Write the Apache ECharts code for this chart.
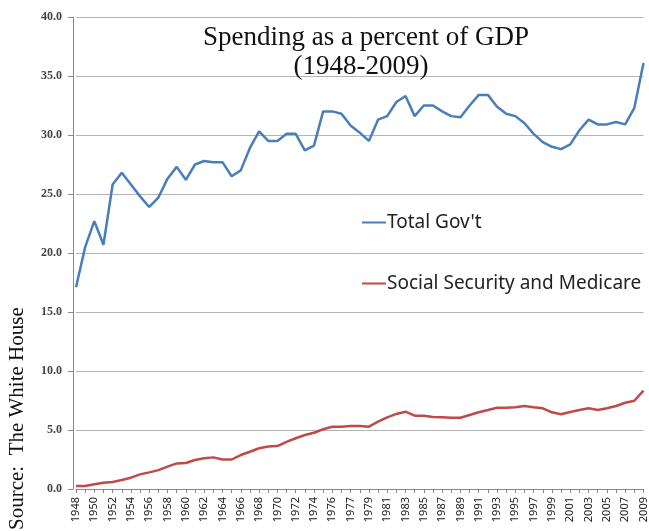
<!DOCTYPE html>
<html>
<head>
<meta charset="utf-8">
<script src="https://cdn.jsdelivr.net/npm/echarts@6/dist/echarts.min.js"></script>
<style>
  html, body { margin: 0; padding: 0; background: #fff; }
  #chart { width: 649px; height: 531px; }
</style>
</head>
<body>
<div id="chart"></div>
<script>
// fiscal years, with the 1976 transition quarter between 1976 and 1977
const years = [
  '1948', '1949', '1950', '1951', '1952', '1953', '1954', '1955', '1956', '1957',
  '1958', '1959', '1960', '1961', '1962', '1963', '1964', '1965', '1966', '1967',
  '1968', '1969', '1970', '1971', '1972', '1973', '1974', '1975', '1976', 'TQ',
  '1977', '1978', '1979', '1980', '1981', '1982', '1983', '1984', '1985', '1986',
  '1987', '1988', '1989', '1990', '1991', '1992', '1993', '1994', '1995', '1996',
  '1997', '1998', '1999', '2000', '2001', '2002', '2003', '2004', '2005', '2006',
  '2007', '2008', '2009'
]

const totalGov = [
  17.1, 20.5, 22.7, 20.7, 25.8, 26.8, 25.8, 24.8, 23.9, 24.7,
  26.3, 27.3, 26.2, 27.5, 27.8, 27.7, 27.7, 26.5, 27.0, 28.9,
  30.3, 29.5, 29.5, 30.1, 30.1, 28.7, 29.1, 32.0, 32.0, 31.8,
  30.8, 30.2, 29.5, 31.3, 31.6, 32.8, 33.3, 31.6, 32.5, 32.5,
  32.0, 31.6, 31.5, 32.5, 33.4, 33.4, 32.4, 31.8, 31.6, 31.0,
  30.1, 29.4, 29.0, 28.8, 29.2, 30.4, 31.3, 30.9, 30.9, 31.1,
  30.9, 32.3, 36.1
]

const ssMedicare = [
  0.25, 0.25, 0.4, 0.53, 0.6, 0.76, 0.96, 1.24, 1.41, 1.6,
  1.9, 2.17, 2.2, 2.46, 2.6, 2.68, 2.5, 2.5, 2.88, 3.16,
  3.45, 3.6, 3.64, 4.0, 4.3, 4.58, 4.77, 5.06, 5.28, 5.28,
  5.34, 5.34, 5.28, 5.71, 6.07, 6.36, 6.55, 6.21, 6.21, 6.1,
  6.07, 6.04, 6.04, 6.27, 6.5, 6.69, 6.89, 6.89, 6.92, 7.03,
  6.92, 6.84, 6.5, 6.33, 6.53, 6.69, 6.84, 6.69, 6.84, 7.03,
  7.31, 7.48, 8.33
]

const titleText = {
  fontFamily: 'Liberation Serif',
  fontWeight: 'normal',
  fontSize: 27,
  color: '#111'
}
const legendText = { fontFamily: 'Noto Sans', fontSize: 19, color: '#222', padding: [0, 0, 0, -4] }

const chart = echarts.init(document.getElementById('chart'))

chart.setOption({
  animation: false,
  backgroundColor: '#fff',
  title: [
    {
      text: 'Spending as a percent of GDP',
      left: 361,
      top: 19,
      textAlign: 'center',
      textStyle: titleText
    },
    {
      text: '(1948-2009)',
      left: 356,
      top: 48,
      textAlign: 'center',
      textStyle: titleText
    }
  ],
  legend: [
    {
      data: ['Total Gov\'t'],
      left: 357,
      top: 208,
      icon: 'rect',
      itemWidth: 24,
      itemHeight: 2,
      textStyle: legendText
    },
    {
      data: ['Social Security and Medicare'],
      left: 357,
      top: 269,
      icon: 'rect',
      itemWidth: 24,
      itemHeight: 2,
      textStyle: legendText
    }
  ],
  graphic: [
    {
      type: 'text',
      x: 7,
      y: 530,
      rotation: Math.PI / 2,
      style: {
        text: 'Source:  The White House',
        fontFamily: 'Liberation Serif',
        fontSize: 21,
        fill: '#111',
        textVerticalAlign: 'top'
      }
    }
  ],
  grid: {
    left: 76,
    right: 3,
    top: 17,
    bottom: 42
  },
  xAxis: {
    type: 'category',
    data: years,
    boundaryGap: false,
    axisLine: { lineStyle: { color: '#888' } },
    axisTick: { interval: 0, length: 4, lineStyle: { color: '#888' } },
    axisLabel: {
      interval: 1,
      rotate: 90,
      margin: 8,
      fontFamily: 'Noto Sans',
      fontSize: 11,
      color: '#222'
    }
  },
  yAxis: {
    type: 'value',
    min: 0,
    max: 40,
    interval: 5,
    offset: 3,
    axisLine: { show: true, lineStyle: { color: '#888' } },
    axisTick: { show: true, length: 5, lineStyle: { color: '#888' } },
    axisLabel: {
      formatter: v => v.toFixed(1),
      margin: 11,
      fontFamily: 'Liberation Serif',
      fontWeight: 'bold',
      fontSize: 12,
      color: '#444'
    },
    splitLine: { lineStyle: { color: '#b4b4b4', width: 1 } }
  },
  series: [
    {
      name: 'Total Gov\'t',
      type: 'line',
      data: totalGov,
      showSymbol: false,
      symbol: 'none',
      color: '#4a7ebb',
      lineStyle: { width: 2.5, color: '#4a7ebb' }
    },
    {
      name: 'Social Security and Medicare',
      type: 'line',
      data: ssMedicare,
      showSymbol: false,
      symbol: 'none',
      color: '#be4b48',
      lineStyle: { width: 2.5, color: '#be4b48' }
    }
  ]
})
</script>
</body>
</html>
